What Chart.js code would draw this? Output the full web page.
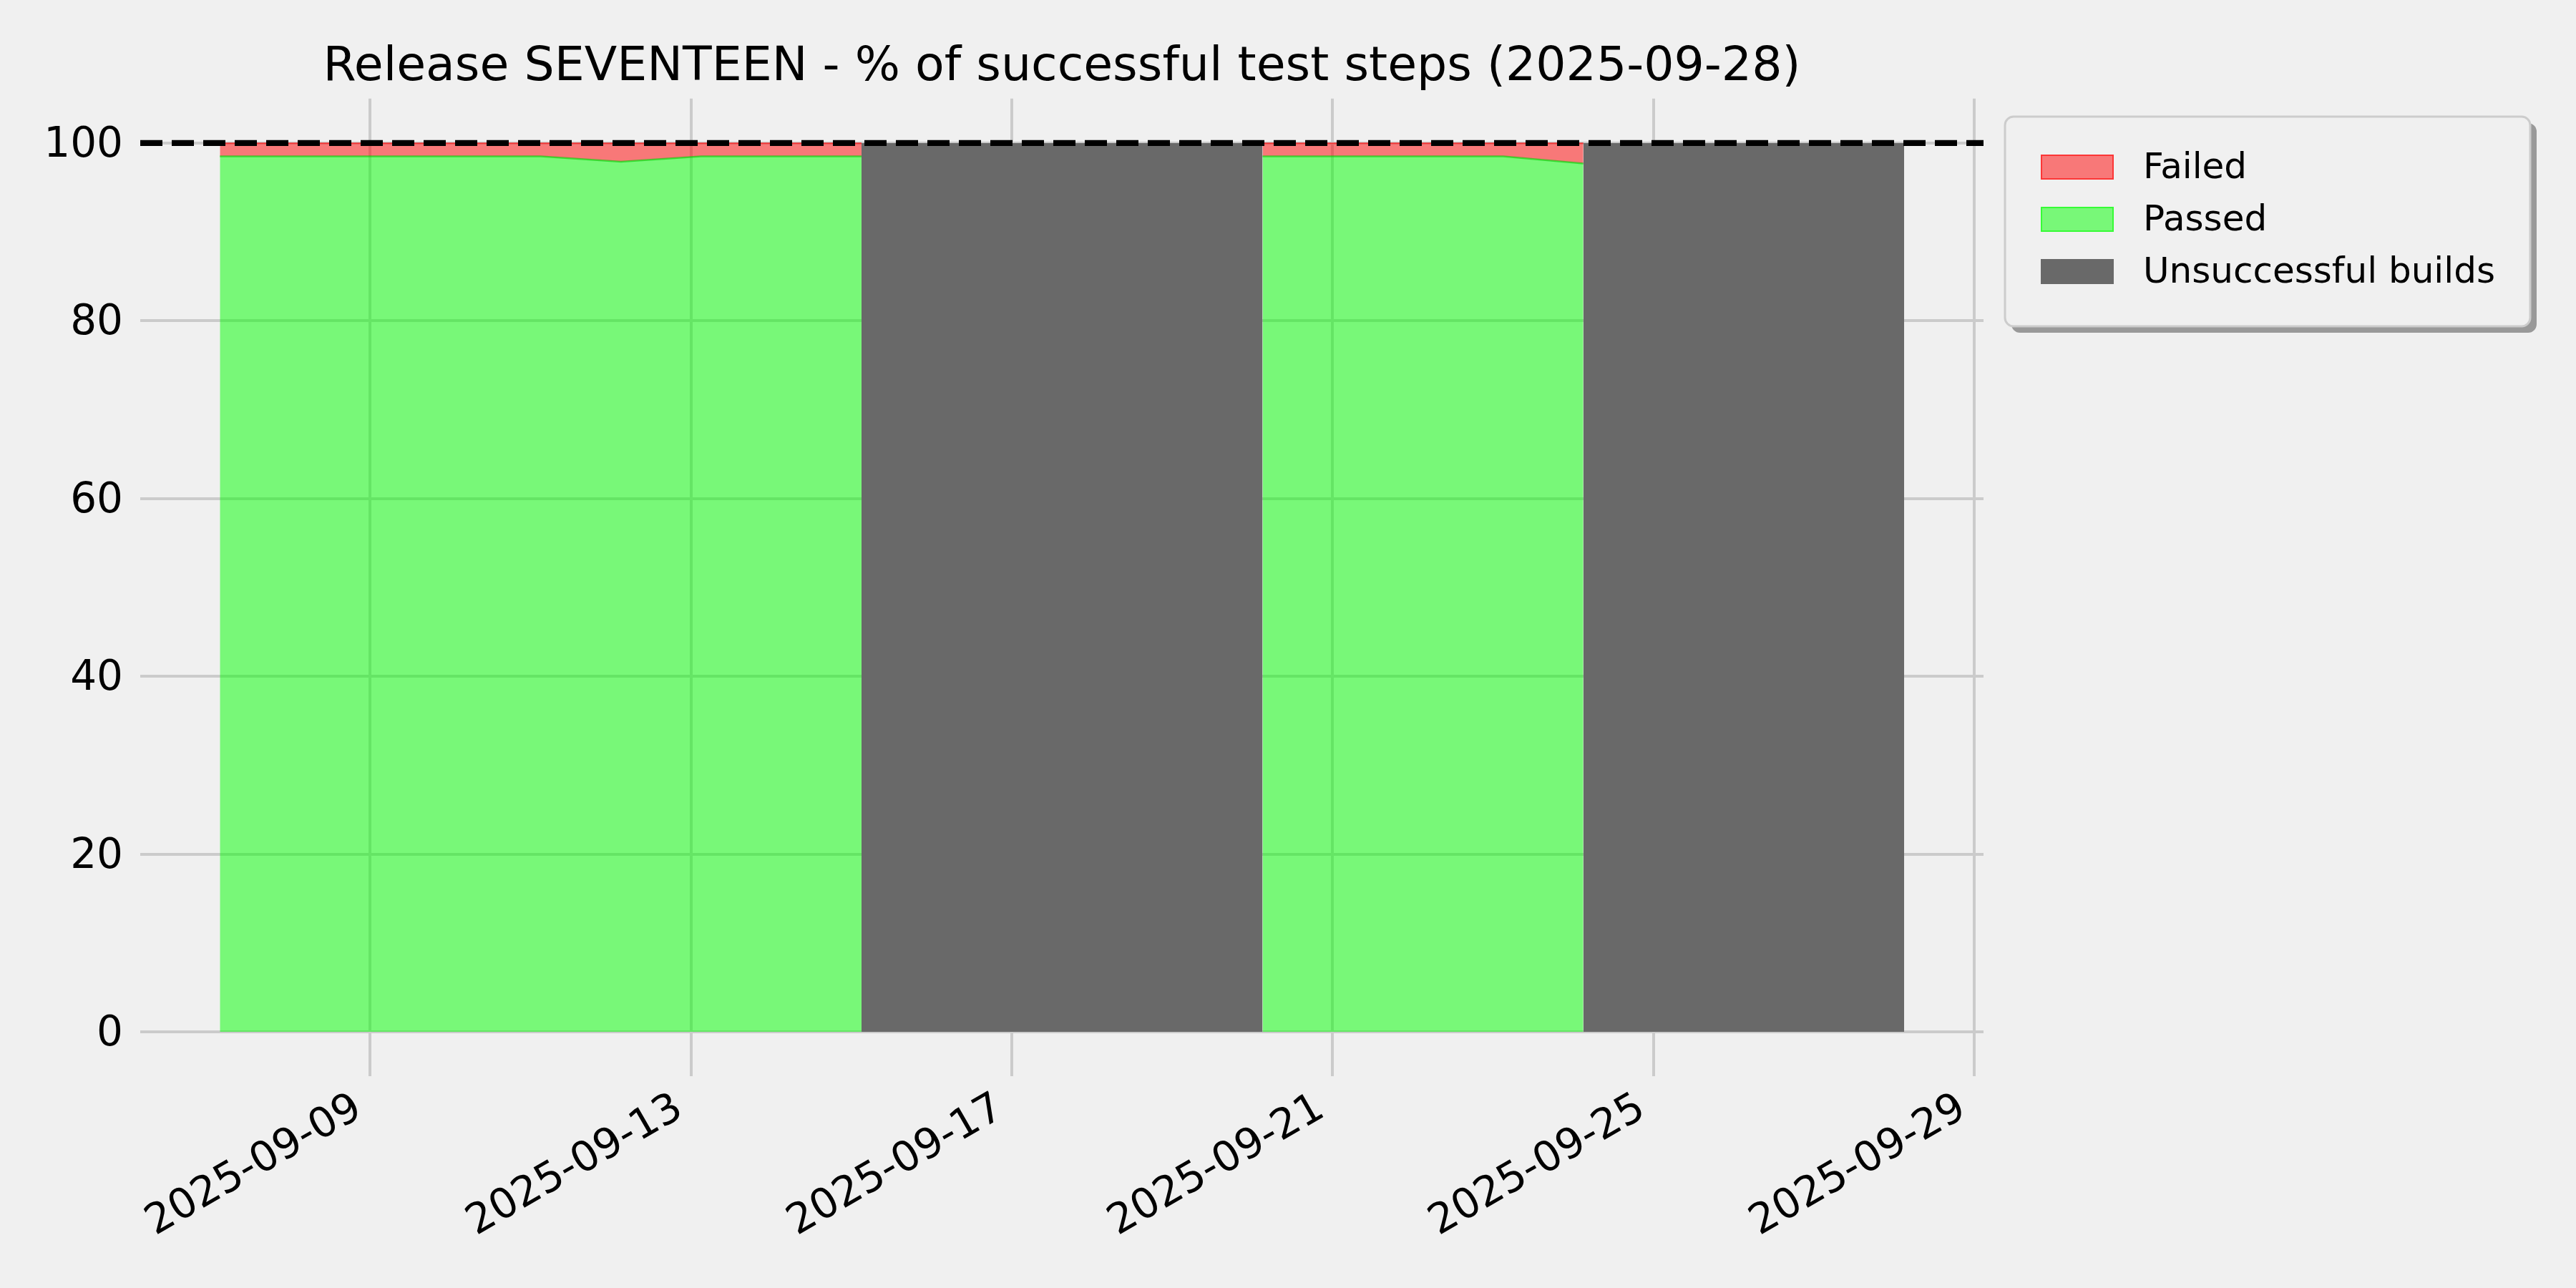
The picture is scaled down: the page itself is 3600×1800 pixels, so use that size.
<!DOCTYPE html>
<html>
<head>
<meta charset="utf-8">
<script src="https://cdn.jsdelivr.net/npm/chart.js@4/dist/chart.umd.min.js"></script>
<style>
  html, body { margin: 0; padding: 0; background: #f0f0f0; }
  #wrap { width: 3600px; height: 1800px; }
</style>
</head>
<body>
<div id="wrap"><canvas id="stepsChart" width="3600" height="1800"></canvas></div>
<script>
// one nightly run per day
const dates = [
  '2025-09-07T03:00', '2025-09-08T03:00', '2025-09-09T03:00', '2025-09-10T03:00',
  '2025-09-11T03:00', '2025-09-12T03:00', '2025-09-13T03:00', '2025-09-14T03:00',
  '2025-09-15T03:00', '2025-09-16T03:00', '2025-09-17T03:00', '2025-09-18T03:00',
  '2025-09-19T03:00', '2025-09-20T03:00', '2025-09-21T03:00', '2025-09-22T03:00',
  '2025-09-23T03:00', '2025-09-24T03:00', '2025-09-25T03:00', '2025-09-26T03:00',
  '2025-09-27T03:00', '2025-09-28T03:00'
];
const passed = [98.5, 98.5, 98.5, 98.5, 98.5, 97.9, 98.5, 98.5, 98.5, null, null,
                null, null, 98.5, 98.5, 98.5, 98.5, 97.7, null, null, null, null];
const failed = [1.5, 1.5, 1.5, 1.5, 1.5, 2.1, 1.5, 1.5, 1.5, null, null,
                null, null, 1.5, 1.5, 1.5, 1.5, 2.3, null, null, null, null];
const unsuccessfulBuilds = [null, null, null, null, null, null, null, null, 100, 100, 100,
                            100, 100, 100, null, null, null, 100, 100, 100, 100, 100];
const targetLevel = 100;
const yTickValues = [0, 20, 40, 60, 80, 100];
const xTickDates = ['2025-09-09', '2025-09-13', '2025-09-17', '2025-09-21', '2025-09-25', '2025-09-29'];
const xRange = ['2025-09-06T03:10', '2025-09-29T02:45'];
const yRange = [-5, 105];

const toMs = s => Date.parse(s.length === 10 ? s + 'T00:00:00Z' : s + ':00Z');
const series = vals => dates.map((d, i) => ({ x: toMs(d), y: vals[i] }));

const FONT = 'DejaVu Sans';

// matplotlib-ish legend box, outside the axes on the right
const legendPlugin = {
  id: 'boxLegend',
  afterDraw(chart) {
    const ctx = chart.ctx;
    const box = { x: 2802, y: 163, w: 734, h: 293, r: 12 };
    const rr = (x, y, w, h, r) => {
      ctx.beginPath();
      ctx.moveTo(x + r, y);
      ctx.arcTo(x + w, y, x + w, y + h, r);
      ctx.arcTo(x + w, y + h, x, y + h, r);
      ctx.arcTo(x, y + h, x, y, r);
      ctx.arcTo(x, y, x + w, y, r);
      ctx.closePath();
    };
    ctx.save();
    rr(box.x + 9, box.y + 9, box.w, box.h, box.r);
    ctx.fillStyle = '#999999';
    ctx.fill();
    rr(box.x, box.y, box.w, box.h, box.r);
    ctx.fillStyle = '#f0f0f0';
    ctx.fill();
    ctx.lineWidth = 3;
    ctx.strokeStyle = '#cccccc';
    ctx.stroke();

    const items = chart.data.datasets.filter(ds => !ds.noLegend);
    ctx.font = '50px "' + FONT + '"';
    ctx.textBaseline = 'middle';
    ctx.textAlign = 'left';
    items.forEach((ds, i) => {
      const cy = box.y + 70.5 + i * 73;
      ctx.fillStyle = ds.backgroundColor;
      ctx.fillRect(2852, cy - 17.5, 102, 35);
      if (ds.legendEdge) {
        ctx.lineWidth = 2;
        ctx.strokeStyle = ds.legendEdge;
        ctx.strokeRect(2853, cy - 16.5, 100, 33);
      }
      ctx.fillStyle = '#000000';
      ctx.fillText(ds.label, 2995, cy + 3);
    });
    ctx.restore();
  }
};

const ctx = document.getElementById('stepsChart').getContext('2d');

new Chart(ctx, {
  type: 'line',
  data: {
    datasets: [{
      label: 'Failed',
      data: series(failed),
      stack: 'steps',
      order: 4,
      fill: '+1',
      backgroundColor: 'rgba(255, 0, 0, 0.5)',
      borderColor: 'rgba(255, 0, 0, 0.5)',
      legendEdge: 'rgba(255, 0, 0, 0.55)',
      borderWidth: 2,
      pointRadius: 0,
      tension: 0
    }, {
      label: 'Passed',
      data: series(passed),
      stack: 'steps',
      order: 3,
      fill: 'origin',
      backgroundColor: 'rgba(0, 255, 0, 0.5)',
      borderColor: 'rgba(0, 210, 0, 0.6)',
      legendEdge: 'rgba(0, 255, 0, 0.55)',
      borderWidth: 2.5,
      pointRadius: 0,
      tension: 0
    }, {
      label: 'Unsuccessful builds',
      data: series(unsuccessfulBuilds),
      stack: 'builds',
      order: 2,
      fill: 'origin',
      backgroundColor: '#696969',
      borderColor: '#696969',
      borderWidth: 0,
      pointRadius: 0,
      spanGaps: false
    }, {
      label: 'target',
      noLegend: true,
      data: xRange.map(d => ({ x: toMs(d), y: targetLevel })),
      stack: 'target',
      order: 1,
      fill: false,
      borderColor: '#000000',
      borderWidth: 8.3,
      borderDash: [31, 13],
      borderCapStyle: 'butt',
      pointRadius: 0
    }]
  },
  options: {
    responsive: false,
    animation: false,
    layout: { padding: { left: 0, right: 828, top: 0, bottom: 0 } },
    scales: {
      x: {
        type: 'linear',
        min: toMs(xRange[0]),
        max: toMs(xRange[1]),
        afterBuildTicks: scale => { scale.ticks = xTickDates.map(d => ({ value: toMs(d) })); },
        afterFit: scale => { scale.height = 296; },
        grid: { color: '#cbcbcb', lineWidth: 4, drawTicks: false },
        border: { display: false },
        ticks: {
          autoSkip: false,
          minRotation: 30,
          maxRotation: 30,
          padding: 11,
          labelOffset: -16,
          color: '#000000',
          font: { family: FONT, size: 58 },
          callback: v => new Date(v).toISOString().slice(0, 10)
        }
      },
      y: {
        stacked: true,
        min: yRange[0],
        max: yRange[1],
        afterBuildTicks: scale => { scale.ticks = yTickValues.map(v => ({ value: v })); },
        afterFit: scale => { scale.width = 196; },
        grid: { color: '#cbcbcb', lineWidth: 4, drawTicks: false },
        border: { display: false },
        ticks: {
          padding: 24,
          labelOffset: 4,
          color: '#000000',
          font: { family: FONT, size: 58 }
        }
      }
    },
    plugins: {
      legend: { display: false },
      tooltip: { enabled: false },
      title: {
        display: true,
        fullSize: false,
        text: 'Release SEVENTEEN - % of successful test steps (2025-09-28)',
        color: '#000000',
        font: { family: FONT, size: 66.5, weight: 'normal' },
        padding: { top: 55, bottom: 3 }
      }
    }
  },
  plugins: [legendPlugin]
});
</script>
</body>
</html>
